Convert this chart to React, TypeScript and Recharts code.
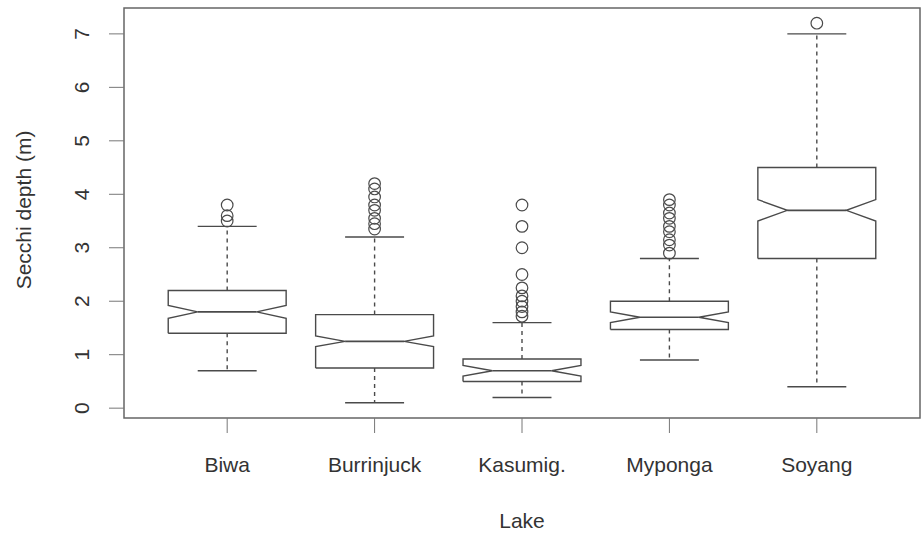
import { ComposedChart, Line, Scatter, XAxis, YAxis, ReferenceArea } from "recharts";

const lakes = ["Biwa", "Burrinjuck", "Kasumig.", "Myponga", "Soyang"];
const whiskerLow = [0.7, 0.1, 0.2, 0.9, 0.4];
const q1 = [1.4, 0.75, 0.5, 1.47, 2.8];
const median = [1.8, 1.25, 0.7, 1.7, 3.7];
const q3 = [2.2, 1.75, 0.92, 2.0, 4.5];
const whiskerHigh = [3.4, 3.2, 1.6, 2.8, 7.0];
const notchLow = [1.68, 1.15, 0.6, 1.6, 3.5];
const notchHigh = [1.92, 1.35, 0.8, 1.8, 3.9];
const outliers = [
  [3.5, 3.6, 3.8],
  [3.35, 3.45, 3.55, 3.7, 3.8, 3.95, 4.1, 4.2],
  [1.72, 1.8, 1.9, 2.0, 2.1, 2.25, 2.5, 3.0, 3.4, 3.8],
  [2.9, 3.05, 3.15, 3.3, 3.4, 3.55, 3.65, 3.8, 3.9],
  [7.2],
];
const yTicks = [0, 1, 2, 3, 4, 5, 6, 7];
const xTicks = [1, 2, 3, 4, 5];

const INK = "#4a4a4a";
const FONT = "'Liberation Sans', Arial, Helvetica, sans-serif";
const HALF = 0.4; // half box width in category units
const NOTCH = 0.2;
const CAP = 0.2;

// R-style axis range: data range stretched by 4%
const lo = Math.min(...whiskerLow);
const hi = Math.max(...outliers.flat(), ...whiskerHigh);
const pad = (hi - lo) * 0.04;
const Y_MIN = lo - pad;
const Y_MAX = hi + pad;
const X_MIN = 0.3;
const X_MAX = 5.7;

const outline = (i: number) => {
  const c = i + 1;
  const xs = [-HALF, HALF, HALF, NOTCH, HALF, HALF, -HALF, -HALF, -NOTCH, -HALF, -HALF];
  const ys = [q1[i], q1[i], notchLow[i], median[i], notchHigh[i], q3[i], q3[i], notchHigh[i], median[i], notchLow[i], q1[i]];
  return xs.map((dx, k) => ({ x: c + dx, y: ys[k] }));
};

const XTick = (props: any) => {
  const { x, y, payload } = props;
  return (
    <text x={x} y={y + 37} textAnchor="middle" fontSize={21} fontFamily={FONT} fill="#333">
      {lakes[payload.value - 1]}
    </text>
  );
};

const YTick = (props: any) => {
  const { x, y, payload } = props;
  const bx = x - 18;
  return (
    <text x={bx} y={y} transform={`rotate(-90, ${bx}, ${y})`} textAnchor="middle" fontSize={21} fontFamily={FONT} fill="#333">
      {payload.value}
    </text>
  );
};

const Ring = (props: any) => {
  const { cx, cy } = props;
  return <circle cx={cx} cy={cy} r={5.8} fill="none" stroke={INK} strokeWidth={1.2} />;
};

export default function App() {
  return (
    <div style={{ position: "absolute", left: 0, top: 0, background: "#fff" }}>
      <ComposedChart width={921} height={533} margin={{ top: 8, right: 1, bottom: 0, left: 0 }}>
        <XAxis
          type="number"
          dataKey="x"
          domain={[X_MIN, X_MAX]}
          allowDataOverflow
          ticks={xTicks}
          interval={0}
          height={115}
          tickSize={15}
          axisLine={false}
          tickLine={{ stroke: "#777" }}
          tick={<XTick />}
          label={{
            content: (p: any) => {
              const vb = p.viewBox;
              return (
                <text x={vb.x + vb.width / 2} y={vb.y + 110} textAnchor="middle" fontSize={21} fontFamily={FONT} fill="#333">
                  Lake
                </text>
              );
            },
          }}
        />
        <YAxis
          type="number"
          dataKey="y"
          domain={[Y_MIN, Y_MAX]}
          allowDataOverflow
          ticks={yTicks}
          interval={0}
          width={124}
          tickSize={15}
          axisLine={false}
          tickLine={{ stroke: "#777" }}
          tick={<YTick />}
          label={{
            content: (p: any) => {
              const vb = p.viewBox;
              const cx = 31;
              const cy = vb.y + vb.height / 2 - 3;
              return (
                <text x={cx} y={cy} transform={`rotate(-90, ${cx}, ${cy})`} textAnchor="middle" fontSize={21} fontFamily={FONT} fill="#333">
                  Secchi depth (m)
                </text>
              );
            },
          }}
        />
        <ReferenceArea x1={X_MIN} x2={X_MAX} y1={Y_MIN} y2={Y_MAX} fill="none" stroke="#666" strokeWidth={1.5} ifOverflow="visible" />

        {lakes.map((name, i) => (
          <Line
            key={`box-${name}`}
            data={outline(i)}
            dataKey="y"
            type="linear"
            stroke={INK}
            strokeWidth={1.4}
            dot={false}
            activeDot={false}
            isAnimationActive={false}
          />
        ))}
        {lakes.map((name, i) => (
          <Line
            key={`med-${name}`}
            data={[{ x: i + 1 - NOTCH, y: median[i] }, { x: i + 1 + NOTCH, y: median[i] }]}
            dataKey="y"
            type="linear"
            stroke={INK}
            strokeWidth={1.6}
            dot={false}
            activeDot={false}
            isAnimationActive={false}
          />
        ))}
        {lakes.map((name, i) => (
          <Line
            key={`wu-${name}`}
            data={[{ x: i + 1, y: q3[i] }, { x: i + 1, y: whiskerHigh[i] }]}
            dataKey="y"
            type="linear"
            stroke={INK}
            strokeWidth={1.4}
            strokeDasharray="4 4"
            dot={false}
            activeDot={false}
            isAnimationActive={false}
          />
        ))}
        {lakes.map((name, i) => (
          <Line
            key={`wl-${name}`}
            data={[{ x: i + 1, y: q1[i] }, { x: i + 1, y: whiskerLow[i] }]}
            dataKey="y"
            type="linear"
            stroke={INK}
            strokeWidth={1.4}
            strokeDasharray="4 4"
            dot={false}
            activeDot={false}
            isAnimationActive={false}
          />
        ))}
        {lakes.map((name, i) => (
          <Line
            key={`cu-${name}`}
            data={[{ x: i + 1 - CAP, y: whiskerHigh[i] }, { x: i + 1 + CAP, y: whiskerHigh[i] }]}
            dataKey="y"
            type="linear"
            stroke={INK}
            strokeWidth={1.4}
            dot={false}
            activeDot={false}
            isAnimationActive={false}
          />
        ))}
        {lakes.map((name, i) => (
          <Line
            key={`cl-${name}`}
            data={[{ x: i + 1 - CAP, y: whiskerLow[i] }, { x: i + 1 + CAP, y: whiskerLow[i] }]}
            dataKey="y"
            type="linear"
            stroke={INK}
            strokeWidth={1.4}
            dot={false}
            activeDot={false}
            isAnimationActive={false}
          />
        ))}
        {lakes.map((name, i) => (
          <Scatter
            key={`out-${name}`}
            data={outliers[i].map((v) => ({ x: i + 1, y: v }))}
            shape={<Ring />}
            isAnimationActive={false}
          />
        ))}
      </ComposedChart>
    </div>
  );
}
